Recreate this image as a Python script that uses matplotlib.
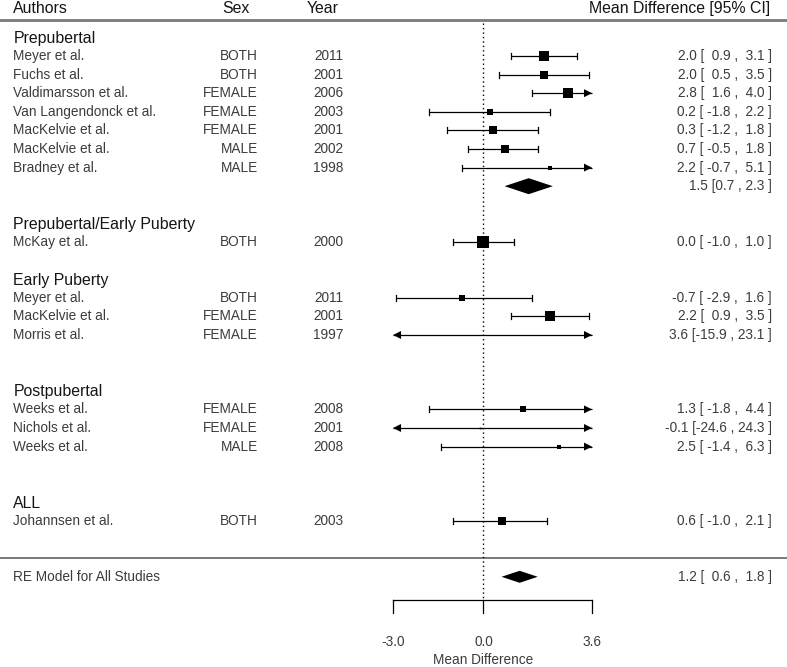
import matplotlib.pyplot as plt
import numpy as np

# study data, top to bottom
groups = ['Prepubertal', 'Prepubertal/Early Puberty', 'Early Puberty', 'Postpubertal', 'ALL']
group_of_study = [0, 0, 0, 0, 0, 0, 0, 1, 2, 2, 2, 3, 3, 3, 4]
authors = ['Meyer et al.', 'Fuchs et al.', 'Valdimarsson et al.', 'Van Langendonck et al.',
           'MacKelvie et al.', 'MacKelvie et al.', 'Bradney et al.',
           'McKay et al.',
           'Meyer et al.', 'MacKelvie et al.', 'Morris et al.',
           'Weeks et al.', 'Nichols et al.', 'Weeks et al.',
           'Johannsen et al.']
sexes = ['BOTH', 'BOTH', 'FEMALE', 'FEMALE', 'FEMALE', 'MALE', 'MALE',
         'BOTH',
         'BOTH', 'FEMALE', 'FEMALE',
         'FEMALE', 'FEMALE', 'MALE',
         'BOTH']
years = [2011, 2001, 2006, 2003, 2001, 2002, 1998, 2000, 2011, 2001, 1997, 2008, 2001, 2008, 2003]
estimates = [2.0, 2.0, 2.8, 0.2, 0.3, 0.7, 2.2, 0.0, -0.7, 2.2, 3.6, 1.3, -0.1, 2.5, 0.6]
ci_lower = [0.9, 0.5, 1.6, -1.8, -1.2, -0.5, -0.7, -1.0, -2.9, 0.9, -15.9, -1.8, -24.6, -1.4, -1.0]
ci_upper = [3.1, 3.5, 4.0, 2.2, 1.8, 1.8, 5.1, 1.0, 1.6, 3.5, 23.1, 4.4, 24.3, 6.3, 2.1]
weights = [8.3, 6.7, 8.3, 5.3, 6.7, 7.7, 4.0, 10.0, 6.0, 8.3, 0.3, 4.7, 1.5, 3.7, 7.7]

# subgroup estimate (prepubertal) and overall RE model
sub_est, sub_lo, sub_hi = 1.5, 0.7, 2.3
re_est, re_lo, re_hi = 1.2, 0.6, 1.8

axis_ticks = [-3.0, 0.0, 3.6]

# layout (rows counted upward, one row = one study line)
blank_rows_before = [0, 1, 1, 2, 2]
x_author, x_sex, x_year, x_ci = -15.6, -7.48, -4.66, 9.57

rows_study = []
rows_header = []
row = 28
for g in range(len(groups)):
    row -= blank_rows_before[g]
    rows_header.append(row - 0.05)
    row -= 1
    for i in range(len(authors)):
        if group_of_study[i] == g:
            rows_study.append(row)
            row -= 1
    if g == 0:
        sub_row = row
        row -= 1

plt.rcParams['font.family'] = ['Liberation Sans', 'DejaVu Sans']
body = '#3c3c3c'
head = '#151515'
fs_body = 9.8
fs_head = 11.4

fig = plt.figure(figsize=(7.87, 6.67), dpi=100)
ax = fig.add_axes([0, 0, 1, 1])
ax.set_xlim(-16.04, 10.07)
ax.set_ylim(-5.85, 30.01)
ax.axis('off')

xpx = 30.15   # px per data unit
ypx = 18.6    # px per row
lo_lim, hi_lim = axis_ticks[0], axis_ticks[-1]

# headers
ax.text(x_author, 29.55, 'Authors', fontsize=fs_head, color=head, va='center', ha='left')
ax.text(-8.2, 29.55, 'Sex', fontsize=fs_head, color=head, va='center', ha='center')
ax.text(-5.35, 29.55, 'Year', fontsize=fs_head, color=head, va='center', ha='center')
ax.text(9.5, 29.55, 'Mean Difference [95% CI]', fontsize=fs_head, color=head, va='center', ha='right')
ax.axhline(28.94, color='#7a7a7a', lw=2.0)
ax.axhline(0.0, color='#555555', lw=1.1)

# reference line
ax.plot([0, 0], [28.77, -2.25], color='black', lw=1.0, linestyle=(0, (1, 2.2)))

for g, name in enumerate(groups):
    ax.text(x_author, rows_header[g], name, fontsize=fs_head, color=head, va='center', ha='left')

cap = 3.0 / ypx
arr_len = 8.0 / xpx
arr_half = 4.0 / ypx


def draw_ci(y, lo, hi):
    l = max(lo, lo_lim)
    h = min(hi, hi_lim)
    ax.plot([l, h], [y, y], color='black', lw=0.9, solid_capstyle='butt')
    if lo < lo_lim:
        ax.fill([l, l + arr_len, l + arr_len], [y, y + arr_half, y - arr_half], color='black', lw=0)
    else:
        ax.plot([l, l], [y - cap, y + cap], color='black', lw=0.9)
    if hi > hi_lim:
        ax.fill([h, h - arr_len, h - arr_len], [y, y + arr_half, y - arr_half], color='black', lw=0)
    else:
        ax.plot([h, h], [y - cap, y + cap], color='black', lw=0.9)


def fmt(est, lo, hi):
    return f'{est:.1f} [{lo:5.1f} , {hi:4.1f} ]'


for i, y in enumerate(rows_study):
    draw_ci(y, ci_lower[i], ci_upper[i])
    side = weights[i] * 0.72 * 1.15
    ax.plot(estimates[i], y, marker='s', color='black', markersize=side, markeredgewidth=0, linestyle='none')
    ax.text(x_author, y, authors[i], fontsize=fs_body, color=body, va='center', ha='left')
    ax.text(x_sex, y, sexes[i], fontsize=fs_body, color=body, va='center', ha='right')
    ax.text(x_year, y, str(years[i]), fontsize=fs_body, color=body, va='center', ha='right')
    ax.text(x_ci, y, fmt(estimates[i], ci_lower[i], ci_upper[i]), fontsize=fs_body, color=body,
            va='center', ha='right')

# subgroup diamond
dh = 8.0 / ypx
ax.fill([sub_lo, sub_est, sub_hi, sub_est], [sub_row, sub_row + dh, sub_row, sub_row - dh], color='black', lw=0)
ax.text(x_ci, sub_row, f'{sub_est:.1f} [{sub_lo:.1f} , {sub_hi:.1f} ]', fontsize=fs_body, color=body,
        va='center', ha='right')

# overall RE model
re_row = -1
dh = 6.0 / ypx
ax.fill([re_lo, re_est, re_hi, re_est], [re_row, re_row + dh, re_row, re_row - dh], color='black', lw=0)
ax.text(x_author, re_row, 'RE Model for All Studies', fontsize=fs_body, color=body, va='center', ha='left')
ax.text(x_ci, re_row, fmt(re_est, re_lo, re_hi), fontsize=fs_body, color=body, va='center', ha='right')

# x axis
axis_y = -2.25
tick_len = 13 / ypx
ax.plot([lo_lim, hi_lim], [axis_y, axis_y], color='black', lw=0.9)
for t in axis_ticks:
    ax.plot([t, t], [axis_y, axis_y - tick_len], color='black', lw=0.9)
    ax.text(t, -4.5, f'{t:.1f}', fontsize=fs_body, color=body, va='center', ha='center')
ax.text(0, -5.47, 'Mean Difference', fontsize=fs_body, color=body, va='center', ha='center')

fig.savefig('out.png', dpi=100)
